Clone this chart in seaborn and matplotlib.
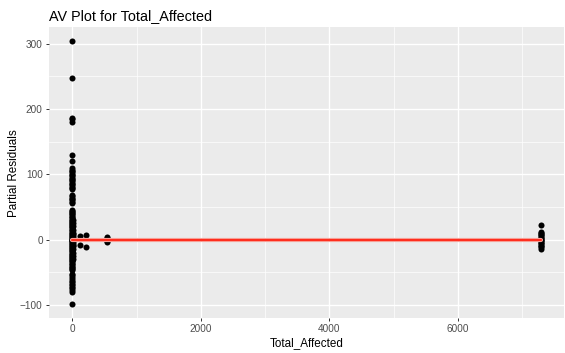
import matplotlib
matplotlib.use("Agg")
import matplotlib.pyplot as plt
from matplotlib.ticker import FixedLocator
import numpy as np
import pandas as pd
import seaborn as sns

# Added-variable plot data: Total_Affected vs partial residuals
col_y = [305, 247, 187, 184, 180, 130, 120,
         109, 107, 105, 103, 101, 99, 97, 95, 93, 91, 89, 87, 85, 83, 81, 79, 77,
         68, 66, 64, 62, 60, 58, 56,
         45, 44, 42, 40, 39, 37, 35, 34, 32, 30, 29, 27, 25, 24, 22, 20, 19, 17,
         15, 14, 12, 10, 9, 7, 5, 4, 2, 1, 0, -1, -2, -3, -5, -6, -8, -9, -11,
         -12, -14, -15, -17, -18, -20, -22, -23, -25, -27, -28, -30, -32, -33,
         -35, -37, -38, -40, -42, -43, -45, -46,
         -53, -55, -58, -60, -63, -65, -68, -70, -73, -75, -77, -80,
         -99]
col_x = [0] * len(col_y)

wide_y = [30, 25, 20, 15, 10, 6, 2, -2, -6, -10, -15, -20, -25, -30, 8, -8, 0]
wide_x = [8, 10, 12, 10, 14, 15, 12, 14, 15, 12, 11, 9, 8, 6, 9, 8, 16]

side_x = [120, 120, 218, 218, 545, 545, 545, 545, 545]
side_y = [5, -8, 7, -12, 4, 2, 0, -2, -4]

far_y = [22, 12, 10, 8, 7, 5, 3, 2, 0, -1, -3, -5, -6, -8, -10, -12, -14]
far_x = [7290] * len(far_y)

total_affected = col_x + wide_x + side_x + far_x
partial_resid = col_y + wide_y + side_y + far_y
df = pd.DataFrame({"Total_Affected": total_affected,
                   "Partial Residuals": partial_resid})

fit_x = [0, 7290]
fit_y = [0, 0]

sns.set_theme(style="darkgrid")
plt.rcParams["font.family"] = ["Liberation Sans", "DejaVu Sans"]

fig = plt.figure(figsize=(5.65, 3.53), dpi=100)
ax = fig.add_axes([49 / 565, (353 - 318) / 353, (564 - 49) / 565, (318 - 27.3) / 353])
ax.set_facecolor("#EBEBEB")

sns.scatterplot(data=df, x="Total_Affected", y="Partial Residuals", ax=ax,
                color="black", s=19, linewidth=0, zorder=3)
sns.lineplot(x=fit_x, y=fit_y, ax=ax, color="#F6A59C", linewidth=3.0, zorder=4)
sns.lineplot(x=fit_x, y=fit_y, ax=ax, color="#FF2E1E", linewidth=1.5, zorder=5)

ax.set_xlim(-364.5, 7654.5)
ax.set_ylim(-120.25, 325.25)
ax.xaxis.set_major_locator(FixedLocator([0, 2000, 4000, 6000]))
ax.xaxis.set_minor_locator(FixedLocator([1000, 3000, 5000, 7000]))
ax.yaxis.set_major_locator(FixedLocator([-100, 0, 100, 200, 300]))
ax.yaxis.set_minor_locator(FixedLocator([-50, 50, 150, 250]))

ax.grid(which="major", color="white", linewidth=1.0)
ax.grid(which="minor", color="white", linewidth=0.5)
ax.set_axisbelow(True)
for sp in ax.spines.values():
    sp.set_visible(False)

ax.tick_params(axis="both", which="major", length=2.5, width=0.7, color="#333333",
               labelsize=7.2, labelcolor="#4D4D4D", pad=2, bottom=True, left=True)
ax.tick_params(axis="both", which="minor", length=0)

ax.set_xlabel("Total_Affected", fontsize=8.4, color="black", labelpad=2)
ax.set_ylabel("Partial Residuals", fontsize=8.4, color="black", labelpad=0)
fig.text(49 / 565, 1 - 20 / 353, "AV Plot for Total_Affected", fontsize=10.4,
         color="black", ha="left", va="baseline")

fig.savefig("out.png", dpi=100)
